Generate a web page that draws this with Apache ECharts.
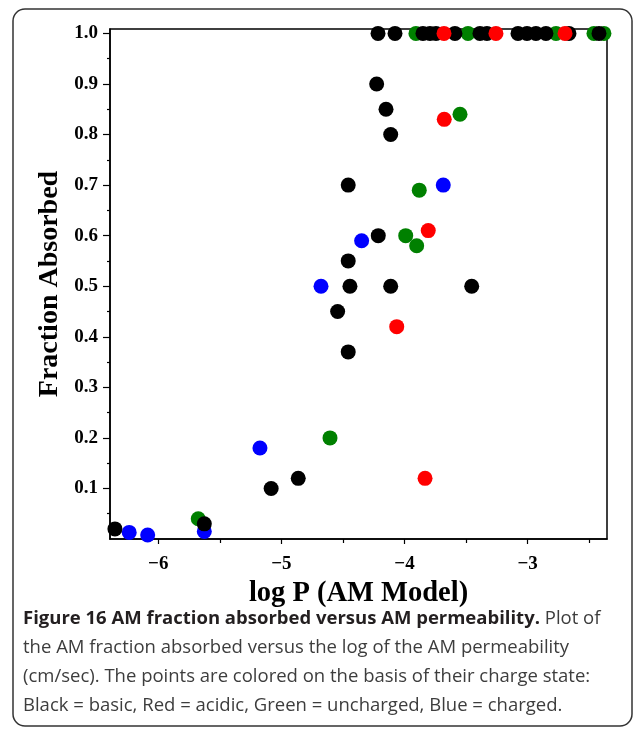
<!DOCTYPE html>
<html>
<head>
<meta charset="utf-8">
<script src="https://cdn.jsdelivr.net/npm/echarts@6/dist/echarts.min.js"></script>
<style>
  html, body { margin: 0; padding: 0; background: #fff; }
  #chart { width: 634px; height: 729px; }
</style>
</head>
<body>
<div id="chart"></div>
<script>
// log P (AM model) vs. fraction absorbed, grouped by charge state
const basicPoints = [
  [-4.215, 1.0], [-4.077, 1.0], [-3.850, 1.0], [-3.793, 1.0], [-3.744, 1.0],
  [-3.590, 1.0], [-3.387, 1.0], [-3.330, 1.0], [-3.078, 1.0], [-3.005, 1.0],
  [-2.932, 1.0], [-2.851, 1.0], [-2.664, 1.0], [-2.420, 1.0],
  [-4.226, 0.90], [-4.150, 0.85], [-4.112, 0.80], [-4.457, 0.70],
  [-4.213, 0.60], [-4.457, 0.55], [-4.443, 0.50], [-4.112, 0.50],
  [-3.454, 0.50], [-4.543, 0.45], [-4.457, 0.37], [-4.863, 0.12],
  [-5.083, 0.10], [-5.626, 0.03], [-6.352, 0.02]
];
const acidicPoints = [
  [-3.679, 1.0], [-3.257, 1.0], [-2.696, 1.0],
  [-3.677, 0.83], [-3.807, 0.61], [-4.063, 0.42], [-3.833, 0.12]
];
const unchargedPoints = [
  [-3.907, 1.0], [-3.484, 1.0], [-2.769, 1.0], [-2.461, 1.0], [-2.380, 1.0],
  [-3.549, 0.84], [-3.880, 0.69], [-3.990, 0.60], [-3.901, 0.58],
  [-4.605, 0.20], [-5.675, 0.04]
];
const chargedPoints = [
  [-3.685, 0.70], [-4.348, 0.59], [-4.678, 0.50], [-5.174, 0.18],
  [-6.236, 0.013], [-6.086, 0.008], [-5.626, 0.015]
];

// axis ticks and labels
const xMajorTicks = [-6, -5, -4, -3];
const xMinorTicks = [-5.5, -4.5, -3.5, -2.5];
const yMajorTicks = [0.1, 0.2, 0.3, 0.4, 0.5, 0.6, 0.7, 0.8, 0.9, 1.0];
const yMinorTicks = [0.05, 0.15, 0.25, 0.35, 0.45, 0.55, 0.65, 0.75, 0.85, 0.95];

const xTitle = 'log P (AM Model)';
const yTitle = 'Fraction Absorbed';
const captionBold = 'Figure 16 AM fraction absorbed versus AM permeability.';
const captionLines = [
  ' Plot of',
  'the AM fraction absorbed versus the log of the AM permeability',
  '(cm/sec). The points are colored on the basis of their charge state:',
  'Black = basic, Red = acidic, Green = uncharged, Blue = charged.'
];

const X_MIN = -6.392, X_MAX = -2.355;
const Y_MIN = 0, Y_MAX = 1.0087;

const serif = '"Liberation Serif", "Times New Roman", serif';
const sans = '"Open Sans", Lato, sans-serif';
const tickFont = { fontFamily: serif, fontWeight: 'bold', fontSize: 19, color: '#000' };

const chart = echarts.init(document.getElementById('chart'), null, { renderer: 'canvas' });

function dots(name, data, color) {
  return {
    name, type: 'scatter', data, clip: false,
    symbol: 'circle', symbolSize: 15,
    itemStyle: { color, opacity: 1 },
    emphasis: { disabled: true },
    xAxisIndex: 0, yAxisIndex: 0
  };
}

chart.setOption({
  animation: false,
  backgroundColor: '#fff',
  grid: {
    left: 110, right: 27, top: 29, bottom: 190,
    show: true, borderColor: '#000', borderWidth: 1.5, backgroundColor: 'transparent'
  },
  xAxis: [
    {
      type: 'value', min: X_MIN, max: X_MAX, position: 'bottom',
      name: xTitle, nameLocation: 'middle', nameGap: 39,
      nameTextStyle: { fontFamily: serif, fontWeight: 'bold', fontSize: 28.5, color: '#000' },
      axisLine: { show: true, onZero: false, lineStyle: { color: '#000', width: 1.5 } },
      axisTick: { show: true, customValues: xMajorTicks, length: 5, lineStyle: { color: '#000', width: 1.2 } },
      axisLabel: Object.assign({
        customValues: xMajorTicks, margin: 16,
        formatter: v => '\u2212' + Math.abs(v)
      }, tickFont),
      splitLine: { show: false }
    },
    {
      type: 'value', min: X_MIN, max: X_MAX, position: 'bottom',
      axisLine: { show: false },
      axisTick: { show: true, customValues: xMinorTicks, length: 4, lineStyle: { color: '#000', width: 1.2 } },
      axisLabel: { show: false },
      splitLine: { show: false }
    }
  ],
  yAxis: [
    {
      type: 'value', min: Y_MIN, max: Y_MAX, position: 'left',
      name: yTitle, nameLocation: 'middle', nameGap: 46, nameRotate: 90,
      nameTextStyle: { fontFamily: serif, fontWeight: 'bold', fontSize: 28, color: '#000' },
      axisLine: { show: true, onZero: false, lineStyle: { color: '#000', width: 1.5 } },
      axisTick: { show: true, customValues: yMajorTicks, length: 7, lineStyle: { color: '#000', width: 1.2 } },
      axisLabel: Object.assign({
        customValues: yMajorTicks, margin: 12,
        formatter: v => v.toFixed(1)
      }, tickFont),
      splitLine: { show: false }
    },
    {
      type: 'value', min: Y_MIN, max: Y_MAX, position: 'left',
      axisLine: { show: false },
      axisTick: { show: true, customValues: yMinorTicks, length: 3, lineStyle: { color: '#000', width: 1.2 } },
      axisLabel: { show: false },
      splitLine: { show: false }
    }
  ],
  title: {
    left: 23, top: 604, padding: 0,
    text: '{b|' + captionBold + '}{n|' + captionLines[0] + '}\n' +
          captionLines.slice(1).map(s => '{n|' + s + '}').join('\n'),
    textStyle: {
      fontFamily: sans, fontSize: 18.5, lineHeight: 29,
      rich: {
        b: { fontFamily: sans, fontWeight: 'bold', fontSize: 18.5, lineHeight: 29, color: '#231f20' },
        n: { fontFamily: sans, fontWeight: 'normal', fontSize: 18.5, lineHeight: 29, color: '#3d3d3d' }
      }
    }
  },
  graphic: [
    {
      type: 'rect', silent: true, z: -1,
      shape: { x: 13, y: 9, width: 619, height: 717, r: 12 },
      style: { fill: 'none', stroke: '#333', lineWidth: 1.5 }
    }
  ],
  series: [
    dots('Uncharged', unchargedPoints, '#008000'),
    dots('Charged', chargedPoints, '#0000ff'),
    dots('Basic', basicPoints, '#000000'),
    dots('Acidic', acidicPoints, '#ff0000')
  ]
});
</script>
</body>
</html>
